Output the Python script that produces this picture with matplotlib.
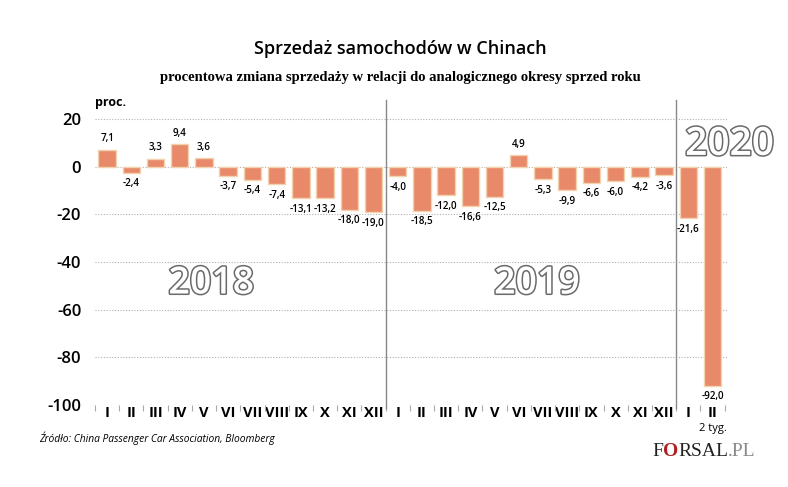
import matplotlib.pyplot as plt
import matplotlib.patheffects as pe
import numpy as np

plt.rcParams['font.family'] = ['Open Sans', 'DejaVu Sans']

months = ['I', 'II', 'III', 'IV', 'V', 'VI', 'VII', 'VIII', 'IX', 'X', 'XI', 'XII']
v2018 = [7.1, -2.4, 3.3, 9.4, 3.6, -3.7, -5.4, -7.4, -13.1, -13.2, -18.0, -19.0]
v2019 = [-4.0, -18.5, -12.0, -16.6, -12.5, 4.9, -5.3, -9.9, -6.6, -6.0, -4.2, -3.6]
v2020 = [-21.6, -92.0]
labels = months + months + ['I', 'II']
vals = v2018 + v2019 + v2020
yticks = [20, 0, -20, -40, -60, -80, -100]

fig = plt.figure(figsize=(7.88, 4.87), dpi=100)
ax = fig.add_axes([0.1206, 0.1684, 0.802, 0.626])

x = np.arange(len(vals))
ax.bar(x, vals, width=0.72, color='#E8896A', edgecolor='#F3D2B0', linewidth=1, zorder=3)

for xi, v in zip(x, vals):
    txt = f'{v:.1f}'.replace('.', ',')
    if v >= 0:
        ax.annotate(txt, (xi, v), xytext=(0, 4), textcoords='offset points',
                    ha='center', va='bottom', fontsize=7.1, fontweight='semibold')
    else:
        ax.annotate(txt, (xi, v), xytext=(0, -4), textcoords='offset points',
                    ha='center', va='top', fontsize=7.1, fontweight='semibold')

ax.set_xlim(-0.5, 25.6)
ax.set_ylim(-100, 28)
for y in yticks:
    ax.axhline(y, color='#b0b0b0', lw=0.8, ls=(0, (1, 1.5)), zorder=1)
for xs in [11.5, 23.5]:
    ax.axvline(xs, ymin=-0.01, ymax=1, color='#888888', lw=1, zorder=2, clip_on=False)

for s in ax.spines.values():
    s.set_visible(False)
ax.set_yticks(yticks)
ax.set_yticklabels([str(y) for y in yticks], fontsize=12, fontweight='semibold')
ax.tick_params(axis='y', length=0, pad=10)
ax.set_xticks(x)
ax.set_xticklabels(labels, fontsize=10.5, fontweight='bold')
ax.tick_params(axis='x', which='major', length=0, pad=1)
ax.set_xticks(np.arange(-0.5, 26, 1), minor=True)
ax.tick_params(axis='x', which='minor', length=4, color='#aaaaaa', width=0.8)

ax.text(x[-1], -110, '2 tyg.', ha='center', va='center', fontsize=8, clip_on=False)

outline = [pe.withStroke(linewidth=2.2, foreground='#6a6a6a')]
for yr, xp, yp, fs in [('2018', 4.3, -49, 27), ('2019', 17.75, -49, 27), ('2020', 25.7, 9.2, 28)]:
    ax.text(xp, yp, yr, ha='center', va='center', fontsize=fs, color='white',
            fontweight='semibold', path_effects=outline, zorder=4, clip_on=False)

fig.text(0.508, 0.90, 'Sprzedaż samochodów w Chinach', ha='center', va='center',
         fontsize=13, fontweight='semibold')
fig.text(0.508, 0.84, 'procentowa zmiana sprzedaży w relacji do analogicznego okresy sprzed roku',
         ha='center', va='center', fontsize=10.5, fontweight='bold',
         family=['Liberation Serif', 'DejaVu Serif'])
fig.text(0.12, 0.79, 'proc.', ha='left', va='center', fontsize=9, fontweight='bold')
fig.text(0.05, 0.10, 'Źródło: China Passenger Car Association, Bloomberg', ha='left',
         va='center', fontsize=7.4, style='italic')

# logo: pieces placed one after another
renderer = fig.canvas.get_renderer()
px, py = 652, 487 - 452
for part, col, wt in [('F', '#222222', 'normal'), ('O', '#b01e23', 'bold'),
                      ('RSAL', '#222222', 'normal'), ('.PL', '#8a8a8a', 'normal')]:
    t = fig.text(px / 788, py / 487, part, ha='left', va='center', fontsize=14,
                 fontweight=wt, color=col, family=['Liberation Serif'])
    bb = t.get_window_extent(renderer)
    px += bb.width

fig.savefig('out.png', dpi=100)
